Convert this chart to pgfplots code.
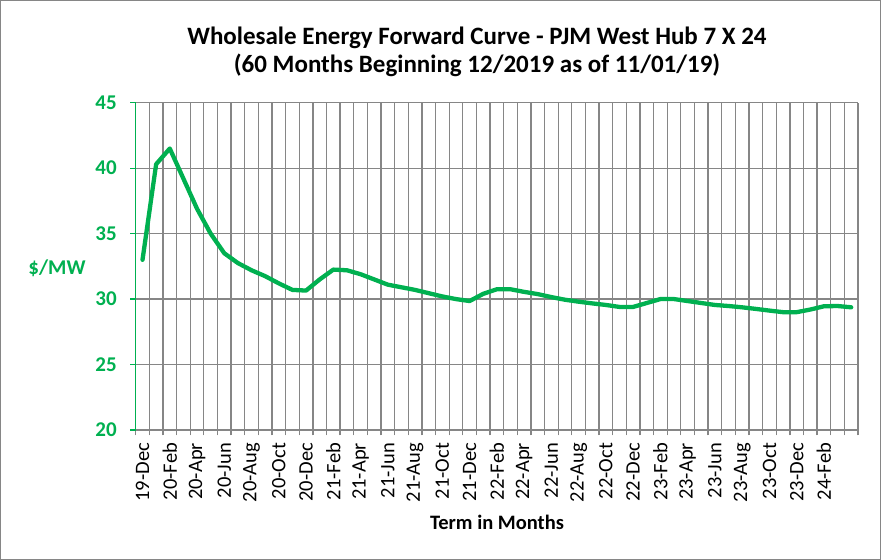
\documentclass[border=0pt]{standalone}
\usepackage{pgfplots}
\pgfplotsset{compat=1.18}
\usepackage{fontspec}
\setmainfont{Carlito}
\definecolor{xlgreen}{RGB}{0,176,80}
\definecolor{gridgray}{RGB}{134,134,134}
\pgfplotstableread{
i v
0 33.0
1 40.3
2 41.5
3 39.2
4 36.9
5 35.0
6 33.5
7 32.75
8 32.2
9 31.75
10 31.2
11 30.7
12 30.65
13 31.5
14 32.25
15 32.2
16 31.9
17 31.5
18 31.1
19 30.9
20 30.7
21 30.45
22 30.2
23 30.0
24 29.85
25 30.4
26 30.75
27 30.75
28 30.55
29 30.38
30 30.15
31 29.95
32 29.8
33 29.67
34 29.55
35 29.4
36 29.4
37 29.7
38 30.0
39 30.0
40 29.85
41 29.7
42 29.55
43 29.47
44 29.37
45 29.25
46 29.12
47 29.0
48 29.0
49 29.2
50 29.45
51 29.47
52 29.37
}\curve
\begin{document}
\begin{tikzpicture}[x=1bp,y=1bp]
\useasboundingbox (-135.7,-130) rectangle (745.3,430);
\draw[gridgray, line width=1.2bp] (-135.1,-129.4) rectangle (744.7,429.4);
\begin{axis}[
  at={(0,0)}, anchor=south west,
  scale only axis, width=722.3bp, height=327.3bp,
  xmin=-0.5, xmax=52.5, ymin=20, ymax=45,
  ytick={20,25,...,45},
  xtick={0,2,...,50},
  xticklabels={19-Dec,20-Feb,20-Apr,20-Jun,20-Aug,20-Oct,20-Dec,21-Feb,21-Apr,21-Jun,21-Aug,21-Oct,21-Dec,22-Feb,22-Apr,22-Jun,22-Aug,22-Oct,22-Dec,23-Feb,23-Apr,23-Jun,23-Aug,23-Oct,23-Dec,24-Feb},
  minor xtick={-0.5,0.5,...,52.5},
  xminorgrids, ymajorgrids,
  grid style={gridgray, line width=1.3bp},
  minor grid style={gridgray, line width=1.3bp},
  major x tick style={draw=none},
  minor x tick style={gridgray, line width=1.3bp},
  y tick style={xlgreen, line width=1.3bp},
  tick align=outside,
  major tick length=5.5bp, minor tick length=5.5bp,
  axis x line*=bottom, axis y line*=left,
  x axis line style={-, draw=gridgray, line width=1.3bp},
  y axis line style={-, draw=xlgreen, line width=1.4bp},
  /pgf/number format/assume math mode=true,
  xticklabel shift=4bp,
  yticklabel shift=10bp,
  xticklabel style={rotate=90, anchor=east, font=\fontsize{20.5bp}{24bp}\selectfont, text=black},
  yticklabel style={font=\fontsize{21bp}{24bp}\selectfont\bfseries, text=xlgreen},
  clip=false,
]
\addplot[xlgreen, line width=4.3bp, line join=round, line cap=round] table[x=i, y=v] {\curve};
\end{axis}
\node[font=\fontsize{25bp}{28bp}\selectfont\bfseries, align=center] at (341.3,378) {Wholesale Energy Forward Curve - PJM West Hub 7 X 24\\(60 Months Beginning 12/2019 as of 11/01/19)};
\node[font=\fontsize{21bp}{24bp}\selectfont\bfseries, text=xlgreen] at (-78.7,162) {\$/MW};
\node[font=\fontsize{20.5bp}{24bp}\selectfont\bfseries] at (361.3,-92) {Term in Months};
\end{tikzpicture}
\end{document}
